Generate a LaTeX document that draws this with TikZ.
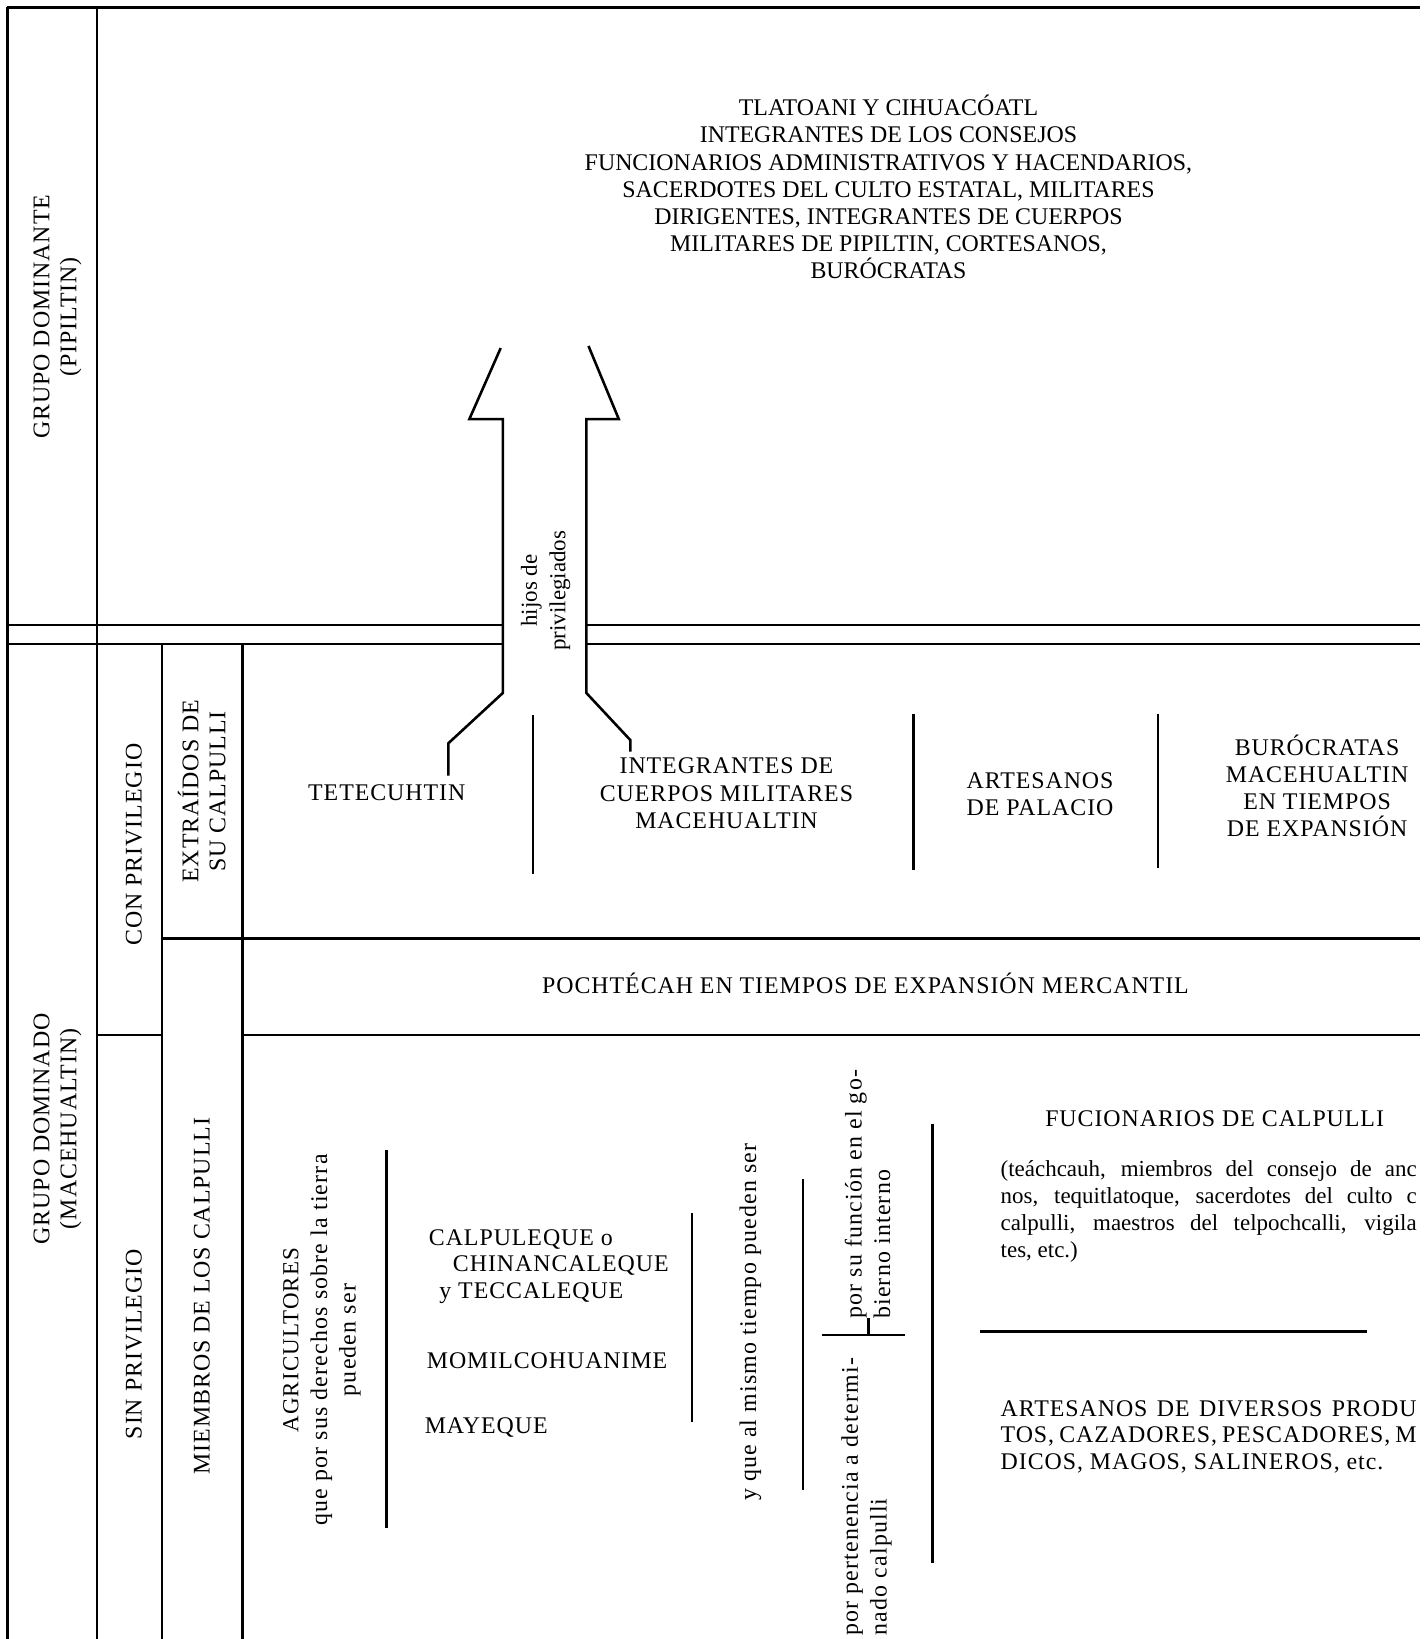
\documentclass[tikz,border=0pt]{standalone}
\usepackage{fontspec}
\setmainfont{Liberation Serif}
\newfontfamily\versal[LetterSpace=4]{Liberation Serif}
\newfontfamily\letra[LetterSpace=5]{Liberation Serif}
\begin{document}
\begin{tikzpicture}[x=0.02cm,y=-0.02cm,
  regla/.style={line width=1.4pt},
  mayus/.style={font=\versal\fontsize{13}{14.8}\selectfont,align=center,inner sep=0pt},
  minus/.style={font=\letra\fontsize{13}{15.6}\selectfont,align=center,inner sep=0pt},
  parrafo/.style={font=\fontsize{12.5}{15}\selectfont,inner sep=0pt,anchor=west},
  vert/.style={rotate=90}]
\useasboundingbox (0,0) rectangle (1364,1568);
 \draw[regla](7,7)--(1358,7);
 \draw[regla](7,7)--(7,1568);
 \draw[regla](93,7)--(93,1568);
 \draw[regla](7,598)--(481,598);
 \draw[regla](561,598)--(1358,598);
 \draw[regla](7,616)--(481,616);
 \draw[regla](561,616)--(1358,616);
 \draw[regla](155,616)--(155,1568);
 \draw[regla](232,616)--(232,1568);
 \draw[regla](155,898)--(1358,898);
 \draw[regla](93,990)--(155,990);
 \draw[regla](232,990)--(1358,990);
 \draw[regla](479,333)--(449,401)--(481,401)--(481,663)--(429,711)--(429,742);
 \draw[regla](563,331)--(592,401)--(561,401)--(561,663)--(603,708)--(603,719);
 \draw[regla](510,684)--(510,836);
 \draw[regla](874,683)--(874,832);
 \draw[regla](1108,683)--(1108,830);
 \draw[regla](370,1100)--(370,1462);
 \draw[regla](662,1160)--(662,1360);
 \draw[regla](768,1128)--(768,1425);
 \draw[regla](786,1277)--(866,1277);
 \draw[regla](831,1261)--(831,1277);
 \draw[regla](892,1075)--(892,1495);
 \draw[regla](938,1274)--(1308,1274);

 \node[mayus,font=\fontsize{13}{14.8}\selectfont] (cima) at (850,179) {TLATOANI Y CIHUACÓATL\\INTEGRANTES DE LOS CONSEJOS\\FUNCIONARIOS ADMINISTRATIVOS Y HACENDARIOS,\\SACERDOTES DEL CULTO ESTATAL, MILITARES\\DIRIGENTES, INTEGRANTES DE CUERPOS\\MILITARES DE PIPILTIN, CORTESANOS,\\BURÓCRATAS};
 \node[mayus,vert] (dominante) at (55,303) {GRUPO DOMINANTE\\(PIPILTIN)};
 \node[mayus,vert] (dominado) at (55,1080) {GRUPO DOMINADO\\(MACEHUALTIN)};
 \node[mayus,vert] (con) at (128,808) {CON PRIVILEGIO};
 \node[mayus,vert] (sin) at (128,1286) {SIN PRIVILEGIO};
 \node[mayus,vert] (extraidos) at (193,757) {EXTRAÍDOS DE\\SU CALPULLI};
 \node[mayus,vert] (miembros) at (193,1240) {MIEMBROS DE LOS CALPULLI};
 \node[minus,vert,font=\fontsize{12.5}{15.6}\selectfont] (hijos) at (522,565) {hijos de\\privilegiados};

 \node[mayus] (tetecuhtin) at (370,758) {TETECUHTIN};
 \node[mayus] (integrantes) at (695,759) {INTEGRANTES DE\\CUERPOS MILITARES\\MACEHUALTIN};
 \node[mayus] (artesanos) at (995,760) {ARTESANOS\\DE PALACIO};
 \node[mayus] (burocratas) at (1260,752) {BURÓCRATAS\\MACEHUALTIN\\EN TIEMPOS\\DE EXPANSIÓN};
 \node[mayus] (pochtecah) at (828,941) {POCHTÉCAH EN TIEMPOS DE EXPANSIÓN MERCANTIL};

 \node[minus,vert] (agricultores) at (308,1282) {{\fontsize{12.5}{15.6}\selectfont AGRICULTORES}\\que por sus derechos sobre la tierra\\pueden ser};
 \node[mayus,anchor=west] (calpuleque) at (410,1186) {CALPULEQUE o};
 \node[mayus,anchor=west] (chinancaleque) at (433,1211) {CHINANCALEQUE};
 \node[mayus,anchor=west] (teccaleque) at (420,1237) {y TECCALEQUE};
 \node[mayus,anchor=west] (momilco) at (408,1302) {MOMILCOHUANIME};
 \node[mayus,anchor=west] (mayeque) at (406,1366) {MAYEQUE};
 \node[minus,vert] (mismo) at (718,1265) {y que al mismo tiempo pueden ser};
 \node[minus,vert,align=left,anchor=west] (funcion) at (830,1262) {por su función en el go-\\bierno interno};
 \node[minus,vert,align=left,anchor=west] (pertenencia) at (829,1565) {por pertenencia a determi-\\nado calpulli};

 \node[mayus] (fucionarios) at (1162,1070) {FUCIONARIOS DE CALPULLI};
 \node[parrafo] (teach1) at (957,1120) {\makebox[7.96cm][s]{(teáchcauh, miembros del consejo de anc}};
 \node[parrafo] (teach2) at (957,1146) {\makebox[7.96cm][s]{nos, tequitlatoque, sacerdotes del culto c}};
 \node[parrafo] (teach3) at (957,1172) {\makebox[7.96cm][s]{calpulli, maestros del telpochcalli, vigila}};
 \node[parrafo] (teach4) at (957,1198) {tes, etc.)};
 \node[mayus,anchor=west] (diversos1) at (957,1348) {\makebox[7.96cm][s]{ARTESANOS DE DIVERSOS PRODU}};
 \node[mayus,anchor=west] (diversos2) at (957,1374) {\makebox[7.96cm][s]{TOS, CAZADORES, PESCADORES, M}};
 \node[mayus,anchor=west] (diversos3) at (957,1400) {DICOS, MAGOS, SALINEROS, etc.};
\end{tikzpicture}
\end{document}
